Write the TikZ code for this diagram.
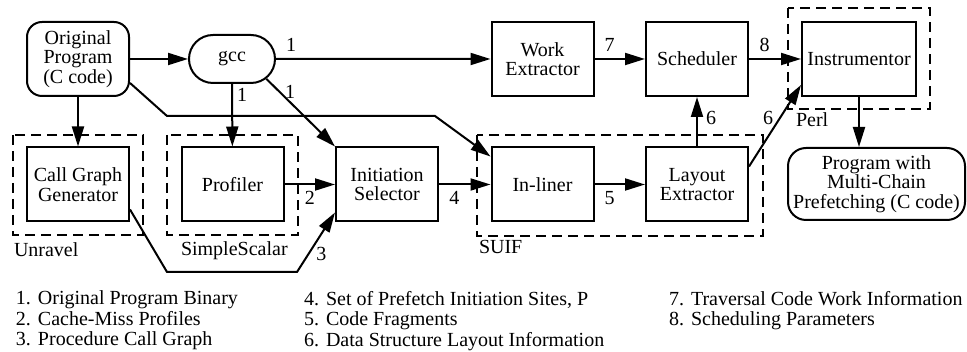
\documentclass[tikz,border=0pt]{standalone}
\usepackage{fontspec}
\setmainfont{Liberation Serif}
\usetikzlibrary{arrows.meta,shapes.misc}

\begin{document}
\begin{tikzpicture}[x=1pt, y=-1pt, line width=2pt,
    every node/.style={font=\fontsize{20}{19.5}\selectfont, align=center, inner sep=2pt},
    box/.style={draw, minimum width=102pt, minimum height=74pt},
    src/.style={draw, rounded corners=15pt, minimum width=102pt, minimum height=74pt},
    grp/.style={dash pattern=on 10pt off 6pt},
    flow/.style={-{Triangle[length=20pt,width=12pt]}},
    lbl/.style={inner sep=2pt},
    key/.style={anchor=north west, align=left, inner sep=0pt, font=\fontsize{20}{20.5}\selectfont}]
    \useasboundingbox (0,0) rectangle (967,352);

    % tools
    \node[src] (orig) at (78,59) {Original\\Program\\(C code)};
    \node[draw, rounded rectangle, minimum width=90pt, minimum height=48pt] (gcc) at (232,59) {gcc};
    \node[box] (work) at (542.5,59) {Work\\Extractor};
    \node[box] (sched) at (697,59) {Scheduler};
    \node[box, minimum width=114pt] (instr) at (859,59) {Instrumentor};
    \node[box] (callg) at (78,184.5) {Call Graph\\Generator};
    \node[box] (prof) at (232.5,184.5) {Profiler};
    \node[box] (init) at (387,184.5) {Initiation\\Selector};
    \node[box] (inl) at (542.5,184.5) {In-liner};
    \node[box] (lay) at (697,184.5) {Layout\\Extractor};
    \node[src, rounded corners=18pt, minimum width=177pt, minimum height=72pt, inner sep=1pt] (out) at (876.5,184) {Program with\\Multi-Chain\\Prefetching (C code)};

    % packages the tools come from
    \draw[grp] (13,135) rectangle (143,235);
    \draw[grp] (167,135) rectangle (298,235);
    \draw[grp] (477,135) rectangle (763,236);
    \draw[grp] (788,8) rectangle (930,109);
    \node[anchor=base west, inner sep=0pt] (unravel) at (13,257) {Unravel};
    \node[anchor=base west, inner sep=0pt] (sscalar) at (180,256) {SimpleScalar};
    \node[anchor=base west, inner sep=0pt] (suif) at (478,254) {SUIF};
    \node[anchor=base west, inner sep=0pt] (perl) at (795,127) {Perl};

    % data flow
    \draw[flow] (orig) -- (gcc);
    \draw[flow] (gcc) -- node[lbl, pos=0.07, above=4pt] {1} (work);
    \draw[flow] (gcc) -- node[lbl, pos=0.17, right=2pt] {1} (prof);
    \draw[flow] (gcc.-30) -- node[lbl, pos=0.2, right=2pt] {1} (init.north west);
    \draw[flow] ([yshift=-24pt]orig.east) -- (167,116) -- (435,116) -- ([yshift=-10pt]inl.north west);
    \draw[flow] (orig) -- (callg);
    \draw[flow] (prof) -- node[lbl, below=4pt] {2} (init);
    \draw[flow] ([yshift=-25pt]callg.east) -- (167,272) -- (297,272)
        -- node[lbl, pos=0.3, right=5pt] {3} ([yshift=10pt]init.south west);
    \draw[flow] (init) -- node[lbl, pos=0.3, below=4pt] {4} (inl);
    \draw[flow] (inl) -- node[lbl, pos=0.3, below=4pt] {5} (lay);
    \draw[flow] (work) -- node[lbl, pos=0.3, above=4pt] {7} (sched);
    \draw[flow] (sched) -- node[lbl, pos=0.3, above=4pt] {8} (instr);
    \draw[flow] (lay) -- node[lbl, pos=0.58, right=6pt] {6} (sched);
    \draw[flow] ([yshift=-20pt]lay.north east) -- node[lbl, pos=0.6, left=4pt] {6} ([yshift=12pt]instr.south west);
    \draw[flow] (instr) -- (instr.south |- out.north);

    % key
    \node[key] (keyA) at (15,290) {1.\hspace{7pt}Original Program Binary\\2.\hspace{7pt}Cache-Miss Profiles\\3.\hspace{7pt}Procedure Call Graph};
    \node[key] (keyB) at (303,290) {4.\hspace{7pt}Set of Prefetch Initiation Sites, P\\5.\hspace{7pt}Code Fragments\\6.\hspace{7pt}Data Structure Layout Information};
    \node[key] (keyC) at (668,290) {7.\hspace{7pt}Traversal Code Work Information\\8.\hspace{7pt}Scheduling Parameters};
\end{tikzpicture}
\end{document}
